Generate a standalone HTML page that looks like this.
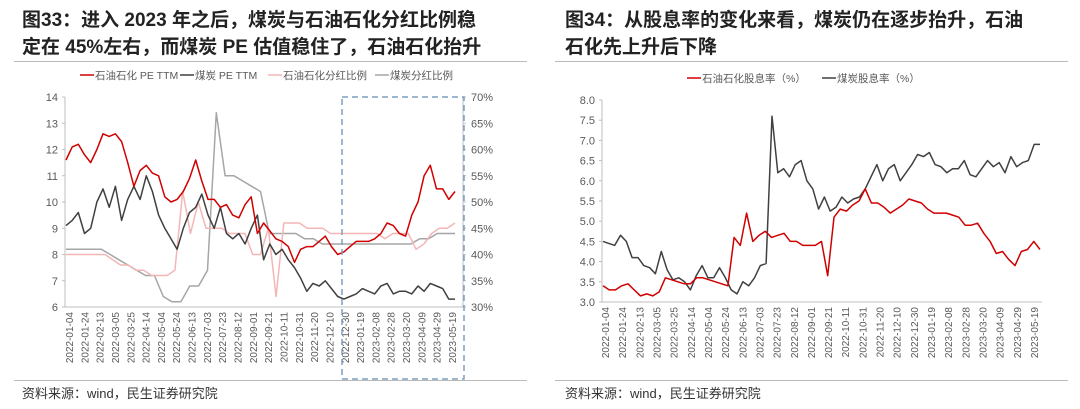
<!DOCTYPE html>
<html><head><meta charset="utf-8">
<style>
body{margin:0;background:#fff;width:1080px;height:409px;overflow:hidden;font-family:"Liberation Sans","Noto Sans CJK SC",sans-serif;}
.t{position:absolute;font-weight:bold;font-size:19px;line-height:27px;color:#222;font-family:"Liberation Sans","Noto Sans CJK SC",sans-serif;}
.src{position:absolute;font-size:13px;color:#333;}
.rule{position:absolute;height:1px;background:#bbb;}
svg{position:absolute;left:0;top:0}
</style></head><body>
<div class="t" style="left:22px;top:7px;width:520px">图33：进入 2023 年之后，煤炭与石油石化分红比例稳<br>定在 45%左右，而煤炭 PE 估值稳住了，石油石化抬升</div>
<div class="t" style="left:565px;top:7px;width:510px">图34：从股息率的变化来看，煤炭仍在逐步抬升，石油<br>石化先上升后下降</div>
<div class="rule" style="left:14px;top:61px;width:513px"></div>
<div class="rule" style="left:555px;top:61px;width:513px"></div>
<div class="rule" style="left:14px;top:380px;width:513px"></div>
<div class="rule" style="left:555px;top:380px;width:513px"></div>
<div class="src" style="left:22px;top:383px">资料来源：wind，民生证券研究院</div>
<div class="src" style="left:565px;top:383px">资料来源：wind，民生证券研究院</div>
<svg id="c" width="1080" height="409"></svg>
<script>
const leftDates=["2022-01-04","2022-01-24","2022-02-13","2022-03-05","2022-03-25","2022-04-14","2022-05-04","2022-05-24","2022-06-13","2022-07-03","2022-07-23","2022-08-12","2022-09-01","2022-09-21","2022-10-11","2022-10-31","2022-11-20","2022-12-10","2022-12-30","2023-01-19","2023-02-08","2023-02-28","2023-03-20","2023-04-09","2023-04-29","2023-05-19"];
const rightDates=["2022-01-04","2022-01-24","2022-02-13","2022-03-05","2022-03-25","2022-04-14","2022-05-04","2022-05-24","2022-06-13","2022-07-03","2022-07-23","2022-08-12","2022-09-01","2022-09-21","2022-10-11","2022-10-31","2022-11-20","2022-12-10","2022-12-30","2023-01-19","2023-02-08","2023-02-28","2023-03-20","2023-04-09","2023-04-29","2023-05-19"];
const leftYTicks=[6,7,8,9,10,11,12,13,14];
const leftY2Ticks=[30,35,40,45,50,55,60,65,70];
const rightYTicks=[3.0,3.5,4.0,4.5,5.0,5.5,6.0,6.5,7.0,7.5,8.0];
const oilPE=[11.6,12.1,12.2,11.8,11.5,12.0,12.6,12.5,12.6,12.3,11.5,10.6,11.2,11.4,11.1,11.0,10.2,10.0,10.1,10.4,10.9,11.6,10.8,10.1,10.1,9.8,9.9,9.5,9.4,9.9,10.2,8.8,9.2,8.9,8.6,8.5,8.3,7.7,8.2,8.3,8.3,8.5,8.7,8.3,8.0,8.1,8.3,8.5,8.5,8.5,8.6,8.8,9.2,9.1,8.8,8.7,9.5,10.0,11.0,11.4,10.5,10.5,10.1,10.4];
const coalPE=[9.1,9.3,9.6,8.8,9.0,10.0,10.5,9.8,10.6,9.3,10.1,10.6,10.1,11.0,10.4,9.5,9.0,8.6,8.2,9.0,9.6,9.8,10.3,9.5,9.0,9.8,8.8,8.6,8.8,8.4,9.0,9.5,7.8,8.4,8.0,8.2,7.8,7.5,7.1,6.6,6.9,6.8,7.0,6.7,6.4,6.3,6.4,6.5,6.7,6.6,6.5,6.8,6.9,6.5,6.6,6.6,6.5,6.8,6.6,6.9,6.8,6.7,6.3,6.3];
const oilPayout=[40,40,40,40,40,40,39,38,38,37,37,36,36,36,37,52,44,50,45,45,45,44,44,44,40,40,45,32,46,46,46,45,45,45,44,44,44,44,44,44,44,43,44,44,44,41,42,44,45,45,46];
const coalPayout=[41,41,41,41,41,40,39,38,37,36,36,32,31,31,34,34,37,67,55,55,54,53,52,44,44,44,44,43,43,42,42,42,42,42,42,42,42,42,42,42,43,43,44,44,44];
const oilYield=[3.4,3.3,3.3,3.4,3.45,3.3,3.15,3.2,3.15,3.25,3.6,3.55,3.5,3.45,3.45,3.6,3.6,3.55,3.5,3.45,3.4,4.6,4.4,5.2,4.5,4.65,4.75,4.6,4.65,4.7,4.5,4.5,4.4,4.4,4.4,4.5,3.65,5.1,5.3,5.25,5.4,5.5,5.8,5.45,5.45,5.35,5.2,5.3,5.4,5.55,5.5,5.45,5.3,5.2,5.2,5.2,5.15,5.1,4.9,4.9,4.95,4.7,4.5,4.2,4.25,4.05,3.9,4.25,4.3,4.5,4.3];
const coalYield=[4.5,4.45,4.4,4.65,4.5,4.1,4.1,3.9,3.85,3.7,4.25,3.8,3.55,3.6,3.5,3.3,3.65,3.9,3.6,3.6,3.85,3.6,3.3,3.2,3.5,3.4,3.6,3.9,3.95,7.6,6.2,6.3,6.1,6.4,6.5,6.0,5.8,5.3,5.6,5.25,5.35,5.6,5.45,5.55,5.6,5.8,6.1,6.4,6.0,6.3,6.4,6.0,6.2,6.4,6.65,6.6,6.7,6.4,6.35,6.2,6.3,6.3,6.5,6.15,6.1,6.3,6.5,6.35,6.45,6.2,6.6,6.35,6.45,6.5,6.9,6.9];

const svg=document.getElementById('c');const NS='http://www.w3.org/2000/svg';
function mk(tag,attrs,name,parent){const e=document.createElementNS(NS,tag);for(const k in attrs)e.setAttribute(k,attrs[k]);


(parent||svg).appendChild(e);return e;}
function txt(x,y,s,name,extra){const e=mk('text',Object.assign({x:x,y:y,'font-size':11,fill:'#595959','font-family':'Liberation Sans, Noto Sans CJK SC, sans-serif'},extra||{}),name);e.textContent=s;return e;}
function lin(d0,d1,r0,r1){return v=>r0+(v-d0)/(d1-d0)*(r1-r0);}
function series(arr,x0,x1,y,color,w,name){const xs=lin(0,arr.length-1,x0,x1);
mk('path',{d:arr.map((v,i)=>(i?'L':'M')+xs(i).toFixed(1)+','+y(v).toFixed(1)).join(''),fill:'none',stroke:color,'stroke-width':w,'stroke-linejoin':'round'},name);}
function legend(x,y,color,label,name){mk('line',{x1:x,y1:y,x2:x+14,y2:y,stroke:color,'stroke-width':1.5},name+'-swatch');txt(x+15,y+4,label,name,{'font-size':10.5});}

// LEFT
const L={x0:65,x1:463,yT:97,yB:307,px0:66,px1:455};
const ly=lin(6,14,L.yB,L.yT), ly2=lin(30,70,L.yB,L.yT);
mk('line',{x1:L.x0,y1:L.yT,x2:L.x0,y2:L.yB,stroke:'#bfbfbf'},'left-y-axis');
mk('line',{x1:L.x0,y1:L.yB,x2:L.x1,y2:L.yB,stroke:'#bfbfbf'},'left-x-axis');
mk('line',{x1:L.x1,y1:L.yT,x2:L.x1,y2:L.yB,stroke:'#bfbfbf'},'left-y2-axis');
leftYTicks.forEach(v=>{txt(L.x0-7,ly(v)+4,String(v),'left-y-tick',{'text-anchor':'end'});mk('line',{x1:L.x0-3,y1:ly(v),x2:L.x0,y2:ly(v),stroke:'#bfbfbf'},'left-y-tickmark');});
leftY2Ticks.forEach(v=>{txt(L.x1+8,ly2(v)+4,v+'%','left-y2-tick');mk('line',{x1:L.x1,y1:ly2(v),x2:L.x1+3,y2:ly2(v),stroke:'#bfbfbf'},'left-y2-tickmark');});
const lx=lin(0,leftDates.length-1,L.px0+3,L.px1-3);
leftDates.forEach((d,i)=>{txt(0,0,d,'left-x-tick',{'text-anchor':'end','font-size':10,transform:`translate(${lx(i)+4},${L.yB+5}) rotate(-90)`});});
series(coalPayout,L.px0,L.px1,ly2,'#a6a6a6',1.5,'coal-payout-line');
series(oilPayout,L.px0,L.px1,ly2,'#f4b6b6',1.5,'oil-payout-line');
series(coalPE,L.px0,L.px1,ly,'#404040',1.5,'coal-pe-line');
series(oilPE,L.px0,L.px1,ly,'#d00000',1.5,'oil-pe-line');
mk('rect',{x:342,y:97,width:122,height:282,fill:'none',stroke:'#7f9fc0','stroke-width':1.5,'stroke-dasharray':'6,4'},'highlight-box');
legend(80,75,'#d00000','石油石化 PE TTM','legend-oil-pe');
legend(180,75,'#404040','煤炭 PE TTM','legend-coal-pe');
legend(268,75,'#f4b6b6','石油石化分红比例','legend-oil-payout');
legend(375,75,'#a6a6a6','煤炭分红比例','legend-coal-payout');

// RIGHT
const R={x0:602,x1:1042,yT:100,yB:302};
const ry=lin(3,8,R.yB,R.yT);
mk('line',{x1:R.x0,y1:R.yT,x2:R.x0,y2:R.yB,stroke:'#bfbfbf'},'right-y-axis');
mk('line',{x1:R.x0,y1:R.yB,x2:R.x1,y2:R.yB,stroke:'#bfbfbf'},'right-x-axis');
rightYTicks.forEach(v=>{txt(R.x0-7,ry(v)+4,v.toFixed(1),'right-y-tick',{'text-anchor':'end'});mk('line',{x1:R.x0-3,y1:ry(v),x2:R.x0,y2:ry(v),stroke:'#bfbfbf'},'right-y-tickmark');});
const rx=lin(0,rightDates.length-1,R.x0+3,R.x1-8);
rightDates.forEach((d,i)=>{txt(0,0,d,'right-x-tick',{'text-anchor':'end','font-size':10,transform:`translate(${rx(i)+4},${R.yB+5}) rotate(-90)`});});
series(coalYield,R.x0+1,R.x1-2,ry,'#404040',1.5,'coal-yield-line');
series(oilYield,R.x0+1,R.x1-2,ry,'#d00000',1.5,'oil-yield-line');
legend(687,78,'#d00000','石油石化股息率（%）','legend-oil-yield');
legend(822,78,'#404040','煤炭股息率（%）','legend-coal-yield');
</script>
</body></html>
